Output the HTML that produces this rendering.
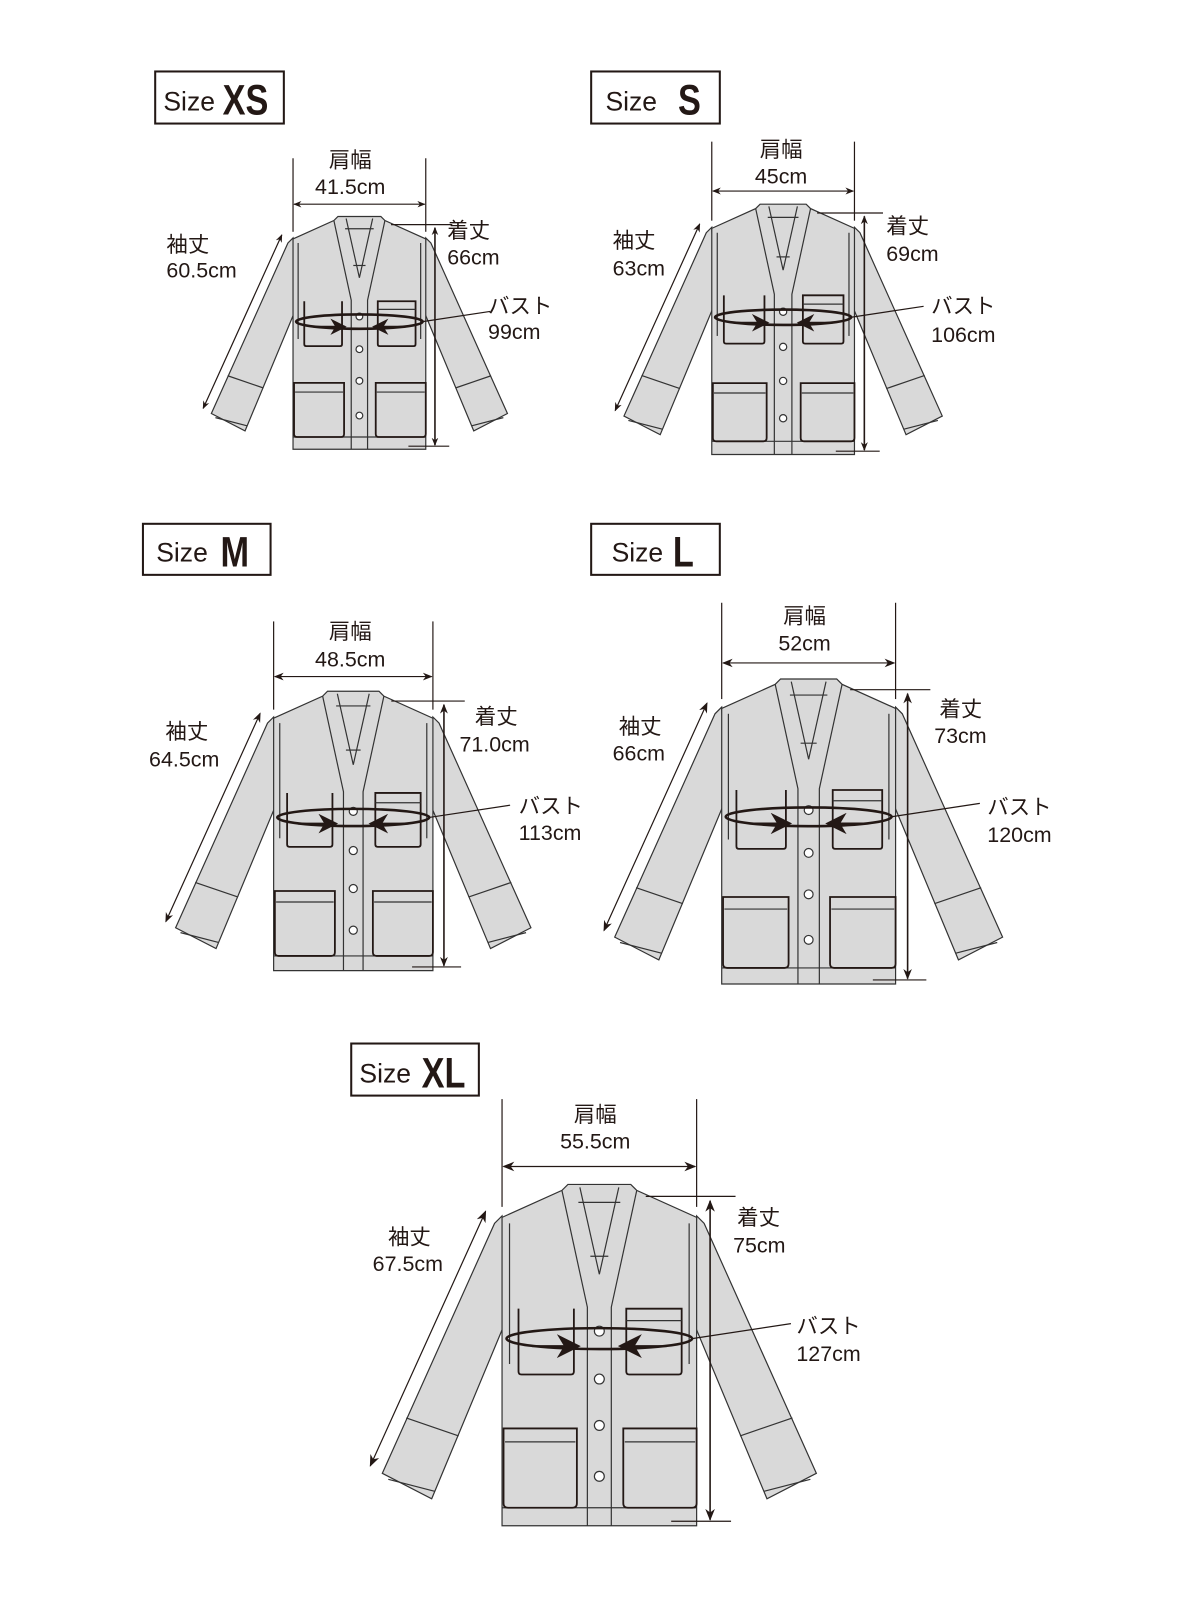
<!DOCTYPE html>
<html><head><meta charset="utf-8"><style>
html,body{margin:0;padding:0;background:#fff;}
svg{display:block}
.t{font-family:"Liberation Sans","Noto Sans CJK JP",sans-serif;font-size:21px;fill:#231815}
.sz{font-family:"Liberation Sans",sans-serif;fill:#231815}
</style></head><body>
<svg width="1200" height="1600" viewBox="0 0 1175.3 1567" preserveAspectRatio="none" xmlns="http://www.w3.org/2000/svg">
<defs>
<marker id="ah" viewBox="0 0 10 10" refX="9" refY="5" markerWidth="8" markerHeight="8" orient="auto-start-reverse" markerUnits="userSpaceOnUse"><path d="M0,1 L10,5 L0,9 L3,5 z" fill="#231815"/></marker>
<marker id="bh" viewBox="0 0 10 10" refX="9" refY="5" markerWidth="16" markerHeight="16" orient="auto" markerUnits="userSpaceOnUse"><path d="M0,0 L10,5 L0,10 L3,5 z" fill="#231815"/></marker>
<g id="jk" fill="#d9d9d9" stroke="#333" stroke-width="1.2">
 <path vector-effect="non-scaling-stroke" d="M-65,21 L-70,26 L-145,193 L-112,210 L-62,90 Z"/>
 <line vector-effect="non-scaling-stroke" x1="-129" y1="156" x2="-94" y2="168"/>
 <line vector-effect="non-scaling-stroke" x1="-141" y1="197" x2="-110" y2="205"/>
 <path vector-effect="non-scaling-stroke" d="M65,21 L70,26 L145,193 L112,210 L62,90 Z"/>
 <line vector-effect="non-scaling-stroke" x1="129" y1="156" x2="94" y2="168"/>
 <line vector-effect="non-scaling-stroke" x1="141" y1="197" x2="110" y2="205"/>
 <path vector-effect="non-scaling-stroke" d="M-65,22 L-25,4 L-21,0 L21,0 L25,4 L65,22 L65,228 L-65,228 Z"/>
 <line vector-effect="non-scaling-stroke" x1="-60" y1="26" x2="-60" y2="120"/>
 <line vector-effect="non-scaling-stroke" x1="60" y1="26" x2="60" y2="120"/>
 <line vector-effect="non-scaling-stroke" x1="-14" y1="12" x2="14" y2="12"/>
 <line vector-effect="non-scaling-stroke" x1="-6" y1="48" x2="6" y2="48"/>
 <path vector-effect="non-scaling-stroke" fill="none" d="M-25,4 L-8,82 L-8,228 M-13,2 L0,60 M25,4 L8,82 L8,228 M13,2 L0,60"/>
 <line vector-effect="non-scaling-stroke" x1="-65" y1="216" x2="65" y2="216"/>
 <path vector-effect="non-scaling-stroke" fill="none" stroke="#231815" stroke-width="1.8" d="M-54,83 L-54,125 Q-54,127 -52,127 L-19,127 Q-17,127 -17,125 L-17,83"/>
 <path vector-effect="non-scaling-stroke" fill="none" stroke="#231815" stroke-width="1.8" d="M18,83 L18,125 Q18,127 20,127 L53,127 Q55,127 55,125 L55,83 Z"/>
 <line vector-effect="non-scaling-stroke" x1="18" y1="91" x2="55" y2="91"/>
 <path vector-effect="non-scaling-stroke" fill="none" stroke="#231815" stroke-width="1.8" d="M-64,163 L-64,213 Q-64,216 -61,216 L-18,216 Q-15,216 -15,213 L-15,163 Z"/>
 <line vector-effect="non-scaling-stroke" x1="-63" y1="172" x2="-16" y2="172"/>
 <path vector-effect="non-scaling-stroke" fill="none" stroke="#231815" stroke-width="1.8" d="M16,163 L16,213 Q16,216 19,216 L62,216 Q65,216 65,213 L65,163 Z"/>
 <line vector-effect="non-scaling-stroke" x1="17" y1="172" x2="64" y2="172"/>
 <circle vector-effect="non-scaling-stroke" cx="0" cy="98" r="3.3" fill="#fff"/>
 <circle vector-effect="non-scaling-stroke" cx="0" cy="130" r="3.3" fill="#fff"/>
 <circle vector-effect="non-scaling-stroke" cx="0" cy="161" r="3.3" fill="#fff"/>
 <circle vector-effect="non-scaling-stroke" cx="0" cy="195" r="3.3" fill="#fff"/>
 <ellipse vector-effect="non-scaling-stroke" cx="0" cy="103" rx="62" ry="7" fill="none" stroke="#231815" stroke-width="2.6"/>
 <line vector-effect="non-scaling-stroke" x1="-45" y1="108" x2="-14" y2="108" stroke="#231815" stroke-width="2" marker-end="url(#bh)"/>
 <line vector-effect="non-scaling-stroke" x1="45" y1="108" x2="14" y2="108" stroke="#231815" stroke-width="2" marker-end="url(#bh)"/>
 <line vector-effect="non-scaling-stroke" x1="62" y1="103" x2="128" y2="93" stroke="#231815"/>
 <g stroke="#231815" fill="none">
 <line vector-effect="non-scaling-stroke" x1="-65" y1="-57" x2="-65" y2="15"/>
 <line vector-effect="non-scaling-stroke" x1="65" y1="-57" x2="65" y2="15"/>
 <line vector-effect="non-scaling-stroke" x1="-64" y1="-12" x2="64" y2="-12" marker-start="url(#ah)" marker-end="url(#ah)"/>
 <line vector-effect="non-scaling-stroke" x1="31" y1="8" x2="91" y2="8"/>
 <line vector-effect="non-scaling-stroke" x1="48" y1="225" x2="88" y2="225"/>
 <line vector-effect="non-scaling-stroke" x1="74" y1="11" x2="74" y2="224" stroke-width="1.6" marker-start="url(#ah)" marker-end="url(#ah)"/>
 <line vector-effect="non-scaling-stroke" x1="-76" y1="18" x2="-153" y2="188" marker-start="url(#ah)" marker-end="url(#ah)"/>
 </g>
</g>
</defs>

<rect x="152" y="70" width="126" height="51" fill="none" stroke="#231815" stroke-width="2"/>
<text class="sz" x="160" y="108" font-size="26">Size</text><text class="sz" x="218" y="112" font-size="42" font-weight="bold" transform="translate(218,0) scale(0.8,1) translate(-218,0)">XS</text>
<rect x="579" y="70" width="126" height="51" fill="none" stroke="#231815" stroke-width="2"/>
<text class="sz" x="593" y="108" font-size="26">Size</text><text class="sz" x="664" y="112" font-size="42" font-weight="bold" transform="translate(664,0) scale(0.8,1) translate(-664,0)">S</text>
<rect x="140" y="513" width="125" height="50" fill="none" stroke="#231815" stroke-width="2"/>
<text class="sz" x="153" y="550" font-size="26">Size</text><text class="sz" x="216" y="555" font-size="42" font-weight="bold" transform="translate(216,0) scale(0.8,1) translate(-216,0)">M</text>
<rect x="579" y="513" width="126" height="50" fill="none" stroke="#231815" stroke-width="2"/>
<text class="sz" x="599" y="550" font-size="26">Size</text><text class="sz" x="659" y="555" font-size="42" font-weight="bold" transform="translate(659,0) scale(0.8,1) translate(-659,0)">L</text>
<rect x="344" y="1022" width="125" height="51" fill="none" stroke="#231815" stroke-width="2"/>
<text class="sz" x="352" y="1060" font-size="26">Size</text><text class="sz" x="413" y="1065" font-size="42" font-weight="bold" transform="translate(413,0) scale(0.8,1) translate(-413,0)">XL</text>

<use href="#jk" transform="translate(352,212) scale(1)"/>
<use href="#jk" transform="translate(767,200) scale(1.075)"/>
<use href="#jk" transform="translate(346,677) scale(1.2)"/>
<use href="#jk" transform="translate(792,665) scale(1.31)"/>
<use href="#jk" transform="translate(587,1160) scale(1.466)"/>

<g class="t" text-anchor="middle" dominant-baseline="central">
<text x="343" y="157">肩幅</text><text x="343" y="183">41.5cm</text>
<text x="765" y="147">肩幅</text><text x="765" y="173">45cm</text>
<text x="343" y="619">肩幅</text><text x="343" y="646">48.5cm</text>
<text x="788" y="604">肩幅</text><text x="788" y="630">52cm</text>
<text x="583" y="1092">肩幅</text><text x="583" y="1118">55.5cm</text>
</g>
<g class="t" dominant-baseline="central">
<text x="163" y="240">袖丈</text><text x="163" y="265">60.5cm</text>
<text x="438" y="226">着丈</text><text x="438" y="252">66cm</text>
<text x="478" y="300">バスト</text><text x="478" y="325">99cm</text>
<text x="600" y="236">袖丈</text><text x="600" y="263">63cm</text>
<text x="868" y="222">着丈</text><text x="868" y="249">69cm</text>
<text x="912" y="300">バスト</text><text x="912" y="328">106cm</text>
<text x="162" y="717">袖丈</text><text x="146" y="744">64.5cm</text>
<text x="465" y="702">着丈</text><text x="450" y="729">71.0cm</text>
<text x="508" y="790">バスト</text><text x="508" y="816">113cm</text>
<text x="606" y="712">袖丈</text><text x="600" y="738">66cm</text>
<text x="920" y="695">着丈</text><text x="915" y="721">73cm</text>
<text x="967" y="791">バスト</text><text x="967" y="818">120cm</text>
<text x="380" y="1212">袖丈</text><text x="365" y="1238">67.5cm</text>
<text x="722" y="1193">着丈</text><text x="718" y="1220">75cm</text>
<text x="780" y="1299">バスト</text><text x="780" y="1326">127cm</text>
</g>
</svg>
</body></html>
